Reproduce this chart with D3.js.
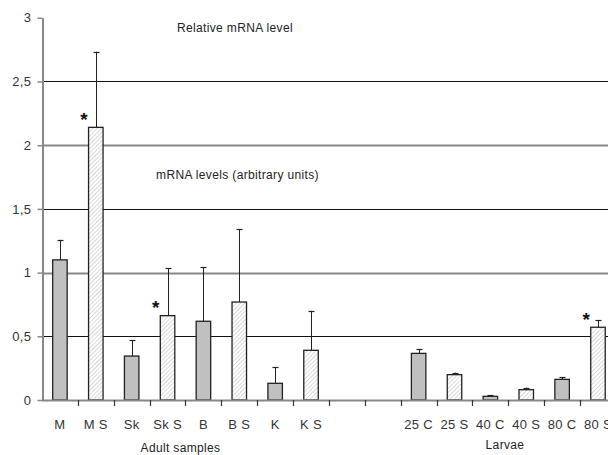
<!DOCTYPE html>
<html><head><meta charset="utf-8">
<script src="https://cdn.jsdelivr.net/npm/d3@7"></script>
<style>body{margin:0;background:#fff}svg{display:block}text{font-family:"Liberation Sans",Arial,sans-serif}</style>
</head><body><svg id="c" width="608" height="455"></svg>
<script>
const categories = ["M","MS","Sk","SkS","B","BS","K","KS","gap1","gap2","25C","25S","40C","40S","80C","80S"];
const tickLabels = ["M","M S","Sk","Sk S","B","B S","K","K S","","","25 C","25 S","40 C","40 S","80 C","80 S"];
const values = [1.10,2.14,0.345,0.662,0.618,0.769,0.131,0.39,null,null,0.366,0.199,0.029,0.081,0.162,0.571];
const errorTop = [1.257,2.734,0.47,1.034,1.042,1.342,0.257,0.70,null,null,0.398,0.214,0.037,0.097,0.178,0.626];
const hatched = [false,true,false,true,false,true,false,true,false,false,false,true,false,true,false,true];
const significant = [false,true,false,true,false,false,false,false,false,false,false,false,false,false,false,true];
const yTicks = [0,0.5,1,1.5,2,2.5,3];
const yTickLabels = ["0","0,5","1","1,5","2","2,5","3"];
const groupLabels = ["Adult samples","Larvae"];
const annotations = ["Relative mRNA level","mRNA levels (arbitrary units)"];

const svg = d3.select("#c");
const step = 35.87;
const x = d3.scaleBand().domain(categories).range([42, 42 + step*categories.length]).paddingInner(0).paddingOuter(0);
const y = d3.scaleLinear().domain([0,3]).range([400,17.8]);

const defs = svg.append("defs");
const pat = defs.append("pattern").attr("id","hatch").attr("patternUnits","userSpaceOnUse")
  .attr("width",3).attr("height",3).attr("patternTransform","rotate(45)");
pat.append("rect").attr("width",3).attr("height",3).attr("fill","#fff");
pat.append("line").attr("x1",0).attr("y1",0).attr("x2",0).attr("y2",3).attr("stroke","#b4b4b4").attr("stroke-width",1);

// gridlines
svg.append("g").selectAll("line").data(yTicks.filter(d=>d>0&&d<3)).join("line")
  .attr("x1",42).attr("x2",608).attr("y1",d=>Math.round(y(d))+0.5).attr("y2",d=>Math.round(y(d))+0.5)
  .attr("stroke",(d,i)=> (d*2)%2===1 ? "#111" : "#888").attr("stroke-width",(d)=> (d*2)%2===1 ? 1.2 : 1.8);

// y axis
const yAxis = d3.axisLeft(y).tickValues(yTicks).tickFormat((d,i)=>yTickLabels[i]).tickSize(5).tickSizeOuter(0);
const gy = svg.append("g").attr("transform","translate(42.5,0)").call(yAxis);
gy.select(".domain").attr("stroke","#888").attr("stroke-width",2);
gy.selectAll(".tick line").attr("stroke","#888").attr("stroke-width",1.5);
gy.selectAll(".tick text").attr("font-size",13).attr("letter-spacing",0.4).attr("fill","#333").attr("x",-11).attr("font-family","Liberation Sans, Arial, sans-serif");

// bars
const bw = 14.5;
const data = categories.map((c,i)=>({c,v:values[i],e:errorTop[i],h:hatched[i],s:significant[i]})).filter(d=>d.v!==null);
const cx = d=> x(d.c)+x.bandwidth()/2;

// error bars
const eg = svg.append("g");
eg.selectAll("line.v").data(data).join("line").attr("class","v")
  .attr("x1",d=>Math.round(cx(d))+0.5).attr("x2",d=>Math.round(cx(d))+0.5)
  .attr("y1",d=>y(d.v)).attr("y2",d=>y(d.e)).attr("stroke","#222").attr("stroke-width",1);
eg.selectAll("line.cap").data(data).join("line").attr("class","cap")
  .attr("x1",d=>Math.round(cx(d))-2.5).attr("x2",d=>Math.round(cx(d))+3.5)
  .attr("y1",d=>Math.round(y(d.e))+0.5).attr("y2",d=>Math.round(y(d.e))+0.5).attr("stroke","#222").attr("stroke-width",1.2);

svg.append("g").selectAll("rect").data(data).join("rect")
  .attr("x",d=>cx(d)-bw/2).attr("width",bw)
  .attr("y",d=>y(d.v)).attr("height",d=>y(0)-y(d.v))
  .attr("fill",d=>d.h?"url(#hatch)":"#c0c0c0").attr("stroke","#222").attr("stroke-width",1.3);

// x axis
const xAxis = d3.axisBottom(x).tickFormat((d,i)=>tickLabels[i]).tickSize(0).tickSizeOuter(0);
const gx = svg.append("g").attr("transform","translate(0,400)").call(xAxis);
gx.select(".domain").attr("stroke","#888").attr("stroke-width",2).attr("d","M42,0.5H608");
gx.selectAll(".tick text").attr("font-size",13).attr("letter-spacing",0.3).attr("fill","#333").attr("dy",0).attr("y",28.5).attr("font-family","Liberation Sans, Arial, sans-serif");
// boundary ticks
svg.append("g").selectAll("line").data(categories.slice(1).concat(["end"])).join("line")
  .attr("x1",(d,i)=>Math.round(x(categories[0])+step*(i+1))+0.5).attr("x2",(d,i)=>Math.round(x(categories[0])+step*(i+1))+0.5)
  .attr("y1",400).attr("y2",406).attr("stroke","#333").attr("stroke-width",1.2);

// stars
svg.append("g").selectAll("text").data(data.filter(d=>d.s)).join("text")
  .attr("x",d=>cx(d)-bw/2-4.5).attr("y",d=>y(d.v)-1.5).attr("text-anchor","middle")
  .attr("font-size",19).attr("font-weight","bold").attr("fill","#111").text("*");

// annotations
const ann = {"font-size":12,"letter-spacing":0.35,"fill":"#222"};
function label(t,xp,yp){const e=svg.append("text").attr("x",xp).attr("y",yp).attr("text-anchor","middle").text(t);for(const k in ann)e.attr(k,ann[k]);return e;}
label(annotations[0],235,31.5);
label(annotations[1],237.5,178.5);
label(groupLabels[0],180.5,452);
label(groupLabels[1],505,449);
</script></body></html>
